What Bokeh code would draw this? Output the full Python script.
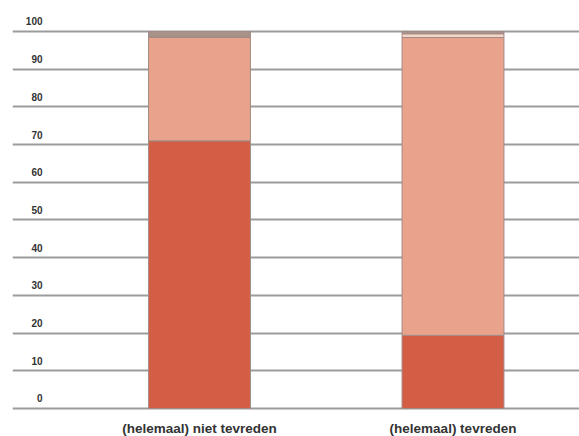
from bokeh.plotting import figure
from bokeh.models import ColumnDataSource, Range1d, FixedTicker
from bokeh.core.properties import value
from bokeh.embed import file_html
from bokeh.resources import INLINE

categories = ["(helemaal) niet tevreden", "(helemaal) tevreden"]
x_pos = [1, 2]
ontevreden = [71.0, 19.4]
tevreden = [27.5, 79.0]
neutraal = [0.0, 1.0]
onbekend = [1.5, 0.6]
y_ticks = [0, 10, 20, 30, 40, 50, 60, 70, 80, 90, 100]
y_tick_labels = [str(t) for t in y_ticks]

series = ["ontevreden", "tevreden", "neutraal", "onbekend"]
colors = ["#d45e45", "#e9a28b", "#f6d6c9", "#a8928a"]

src = ColumnDataSource(dict(x=x_pos, ontevreden=ontevreden, tevreden=tevreden,
                            neutraal=neutraal, onbekend=onbekend, cat=categories,
                            base=[0] * len(x_pos)))

p = figure(width=579, height=436, output_backend="svg", toolbar_location=None,
           x_range=Range1d(0.2624, 2.499), y_range=Range1d(-7.43, 108.22),
           min_border_left=12, min_border_right=0, min_border_top=0, min_border_bottom=0)
p.outline_line_color = None
p.xaxis.visible = False
p.yaxis.visible = False
p.xgrid.visible = False
p.ygrid.ticker = FixedTicker(ticks=y_ticks)
p.ygrid.grid_line_color = "#9c9c9c"
p.ygrid.grid_line_width = 2

p.vbar_stack(series, x="x", width=0.402, source=src, color=colors,
             line_color="#a08c86", line_width=1)

tick_src = ColumnDataSource(dict(y=y_ticks, t=y_tick_labels, x=[0.2624] * len(y_ticks)))
p.text(x="x", y="y", text="t", source=tick_src, x_offset=30, y_offset=-6,
       text_align="right", text_baseline="bottom", text_font=value("Liberation Sans"),
       text_font_size="10px", text_font_style="bold", text_color="#333333")

p.text(x="x", y="base", text="cat", source=src, y_offset=20,
       text_align="center", text_baseline="middle", text_font=value("Liberation Sans"),
       text_font_size="13.5px", text_font_style="bold", text_color="#333333")

open("out.html", "w").write(file_html(p, INLINE))
